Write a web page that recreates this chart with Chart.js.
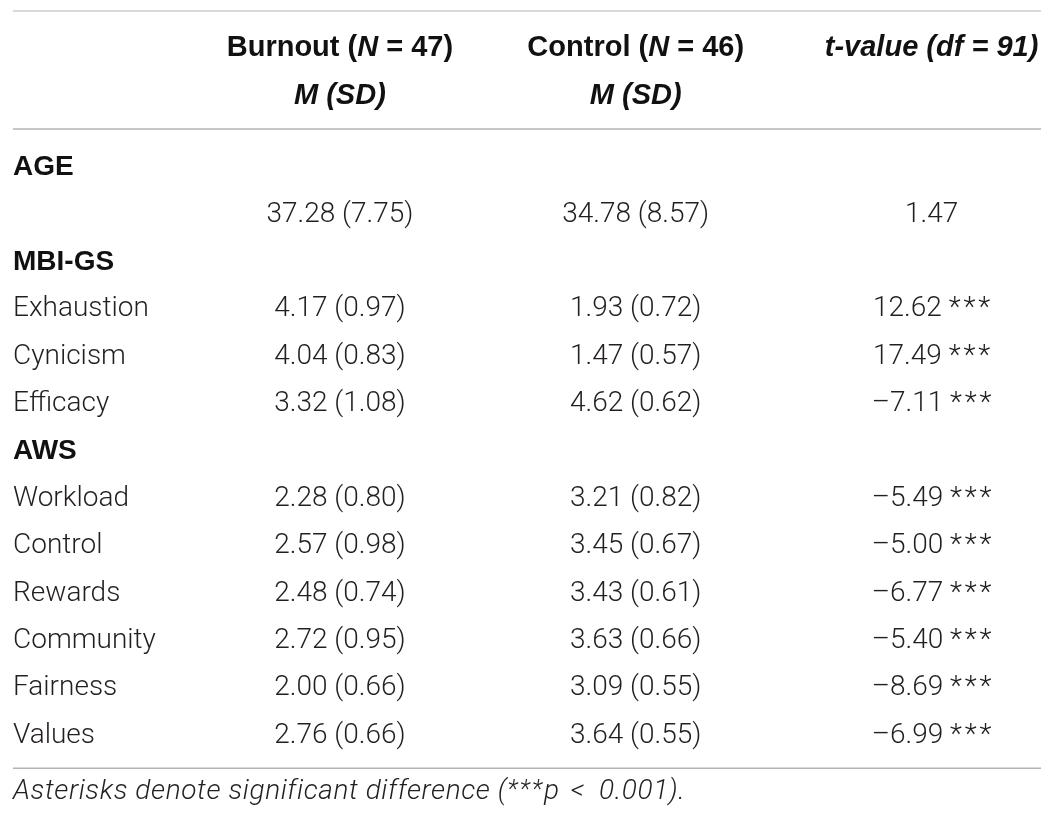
<!DOCTYPE html>
<html>
<head>
<meta charset="utf-8">
<script src="https://cdn.jsdelivr.net/npm/chart.js@4.4.1/dist/chart.umd.min.js"></script>
<style>
  html, body { margin: 0; padding: 0; background: #ffffff; }
  #wrap { width: 1053px; height: 823px; position: relative; }
</style>
</head>
<body>
<div id="wrap"><canvas id="c"></canvas></div>
<script>
// ---------------- data ----------------
const rowLabels = ['AGE', '', 'MBI-GS', 'Exhaustion', 'Cynicism', 'Efficacy', 'AWS',
  'Workload', 'Control', 'Rewards', 'Community', 'Fairness', 'Values'];
const sectionRows = ['AGE', 'MBI-GS', 'AWS'];

const burnoutMean = [null, 37.28, null, 4.17, 4.04, 3.32, null, 2.28, 2.57, 2.48, 2.72, 2.00, 2.76];
const burnoutSD   = [null, 7.75,  null, 0.97, 0.83, 1.08, null, 0.80, 0.98, 0.74, 0.95, 0.66, 0.66];
const controlMean = [null, 34.78, null, 1.93, 1.47, 4.62, null, 3.21, 3.45, 3.43, 3.63, 3.09, 3.64];
const controlSD   = [null, 8.57,  null, 0.72, 0.57, 0.62, null, 0.82, 0.67, 0.61, 0.66, 0.55, 0.55];
const tValue      = [null, 1.47,  null, 12.62, 17.49, -7.11, null, -5.49, -5.00, -6.77, -5.40, -8.69, -6.99];
const tStars      = [null, '',    null, '***', '***', '***', null, '***', '***', '***', '***', '***', '***'];

// header: segments [text, italic]
const headerTop = [
  [['Burnout (', false], ['N', true], [' = 47)', false]],
  [['Control (', false], ['N', true], [' = 46)', false]],
  [['t-value (df = 91)', true]]
];
const headerSub = ['M (SD)', 'M (SD)', ''];
const footnoteParts = ['Asterisks denote significant difference (', '***', 'p', ' < ', '0.001).'];

// ---------------- styles ----------------
const LIGHT = 'Roboto';
const BOLD = '"Liberation Sans", Arial, sans-serif';
const TXT = '#231f20';

const fmt = v => v.toFixed(2);
const fmtT = v => (v < 0 ? '\u2013' + Math.abs(v).toFixed(2) : v.toFixed(2));

function column(xIndex, build) {
  const data = [], text = [];
  rowLabels.forEach((lab, r) => {
    const s = build(r);
    if (s !== null) { data.push({ x: xIndex, y: lab }); text.push(s); }
  });
  return { data, cellText: text, pointRadius: 0, pointHoverRadius: 0, showLine: false };
}

const datasets = [
  column(1, r => burnoutMean[r] === null ? null : fmt(burnoutMean[r]) + ' (' + fmt(burnoutSD[r]) + ')'),
  column(2, r => controlMean[r] === null ? null : fmt(controlMean[r]) + ' (' + fmt(controlSD[r]) + ')'),
  column(3, r => tValue[r] === null ? null : fmtT(tValue[r]) + (tStars[r] ? ' ' + tStars[r].split('').join('\u200A') : ''))
];

function drawSegments(ctx, segs, cx, cy, align) {
  let total = 0;
  segs.forEach(s => { ctx.font = s.font; ctx.letterSpacing = s.ls || '0px'; total += ctx.measureText(s.text).width; });
  let x = align === 'center' ? cx - total / 2 : cx;
  ctx.textAlign = 'left';
  segs.forEach(s => {
    ctx.font = s.font;
    ctx.letterSpacing = s.ls || '0px';
    ctx.fillStyle = s.color || TXT;
    ctx.textBaseline = 'middle';
    ctx.fillText(s.text, x, cy + (s.dy || 0));
    x += ctx.measureText(s.text).width;
  });
  ctx.letterSpacing = '0px';
}

const tablePlugin = {
  id: 'tableText',
  afterDatasetsDraw(chart) {
    const ctx = chart.ctx;
    const xs = chart.scales.x, ys = chart.scales.y;
    const left = ys.left, right = chart.chartArea.right;
    ctx.save();
    const rule = (v, color, w) => {
      const py = ys.getPixelForValue(v);
      ctx.strokeStyle = color; ctx.lineWidth = w;
      ctx.beginPath(); ctx.moveTo(left, py); ctx.lineTo(right, py); ctx.stroke();
    };
    rule(-3.306, '#d9d9d9', 2);
    rule(-0.813, '#b3b3b3', 1.5);
    rule(12.69, '#b3b3b3', 1.5);

    // headers
    const hb = '700 29px ' + BOLD, hbi = 'italic 700 29px ' + BOLD;
    headerTop.forEach((segs, i) => {
      const cx = xs.getPixelForValue(i + 1);
      drawSegments(ctx, segs.map(s => ({ text: s[0], font: s[1] ? hbi : hb, color: '#111' })),
        cx, ys.getPixelForValue(-2.52), 'center');
      if (headerSub[i]) {
        drawSegments(ctx, [{ text: headerSub[i], font: hbi, color: '#111' }], cx, ys.getPixelForValue(-1.52), 'center');
      }
    });

    // cells
    ctx.font = '300 28px ' + LIGHT;
    ctx.fillStyle = TXT;
    ctx.textAlign = 'center';
    ctx.textBaseline = 'middle';
    chart.data.datasets.forEach((ds, di) => {
      const meta = chart.getDatasetMeta(di);
      meta.data.forEach((pt, i) => {
        ctx.fillText(ds.cellText[i], pt.x, pt.y);
      });
    });

    // footnote
    const fi = 'italic 300 28px ' + LIGHT, fs = 'italic 300 25px ' + LIGHT;
    const fy = ys.getPixelForValue(13.2);
    drawSegments(ctx, [
      { text: footnoteParts[0], font: fi, ls: '0.6px' },
      { text: footnoteParts[1], font: fs, ls: '2px', dy: -2 },
      { text: footnoteParts[2], font: fi, ls: '0.6px' },
      { text: footnoteParts[3], font: fi, ls: '4px' },
      { text: footnoteParts[4], font: fi, ls: '0.6px' }
    ], left, fy, 'left');
    ctx.restore();
  }
};

new Chart(document.getElementById('c'), {
  type: 'scatter',
  data: { datasets },
  options: {
    responsive: true,
    maintainAspectRatio: false,
    animation: false,
    events: [],
    layout: { padding: { left: 13, right: 12, top: 143.8, bottom: 63.8 } },
    plugins: { legend: { display: false }, tooltip: { enabled: false } },
    scales: {
      x: { type: 'linear', min: 0.5, max: 3.37, display: false },
      y: {
        type: 'category',
        labels: rowLabels,
        offset: true,
        grid: { display: false },
        border: { display: false },
        afterFit: s => { s.width = 179; },
        ticks: {
          autoSkip: false,
          padding: 0,
          crossAlign: 'far',
          color: c => sectionRows.includes(c.tick && c.tick.label) ? '#111' : TXT,
          font: c => sectionRows.includes(c.tick && c.tick.label)
            ? { family: BOLD, size: 28, weight: '700' }
            : { family: LIGHT, size: 28, weight: '300' }
        }
      }
    }
  },
  plugins: [tablePlugin]
});
</script>
</body>
</html>
